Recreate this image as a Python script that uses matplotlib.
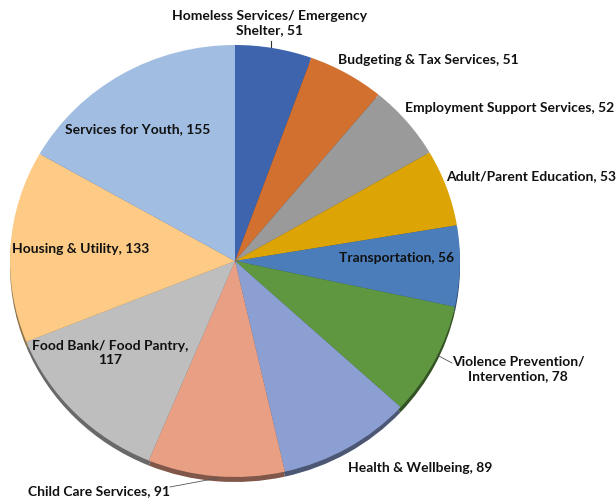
import matplotlib.pyplot as plt
import matplotlib.colors as mcolors

plt.rcParams['font.family'] = ['Lato', 'DejaVu Sans']

categories = ["Homeless Services/ Emergency\nShelter", "Budgeting & Tax Services",
              "Employment Support Services", "Adult/Parent Education", "Transportation",
              "Violence Prevention/\nIntervention", "Health & Wellbeing", "Child Care Services",
              "Food Bank/ Food Pantry,\n", "Housing & Utility", "Services for Youth"]
values = [51, 51, 52, 53, 56, 78, 89, 91, 117, 133, 155]
colors = ["#3F64AE", "#D2702F", "#9A9A9A", "#DCA404", "#4A7DBA", "#5F9741",
          "#8B9FD3", "#E89F84", "#BEBEBE", "#FDCB85", "#A1BDE2"]

# label placement in pixel coords (x, y from top, ha)
label_pos = [(270, 23, 'center'), (338, 60, 'left'), (405, 108, 'left'),
             (446, 176, 'left'), (397, 258, 'center'), (518, 369, 'center'),
             (348, 468, 'left'), (28, 491, 'left'), (110, 353, 'center'),
             (12, 249, 'left'), (138, 129, 'center')]

W, H = 616, 504
fig = plt.figure(figsize=(W / 100, H / 100), dpi=100)

# pie axes: unit radius = 225 px wide, 216 px tall (slight tilt)
cx, cy = 235, 261
rx, ry = 225, 216
ax = fig.add_axes([0, 0, 1, 1])

dark = [tuple(c * 0.55 for c in mcolors.to_rgb(col)) for col in colors]
ax.pie(values, colors=dark, startangle=90, counterclock=False,
       center=(0, -5 / ry), radius=1, wedgeprops=dict(linewidth=0))
ax.pie(values, colors=colors, startangle=90, counterclock=False,
       center=(0, 0), radius=1, wedgeprops=dict(linewidth=0))
ax.set_xlim(-cx / rx, (W - cx) / rx)
ax.set_ylim(-(H - cy) / ry, cy / ry)
ax.set_aspect('auto')
ax.axis('off')

# overlay in pixel coordinates for labels
tx = fig.add_axes([0, 0, 1, 1])
tx.set_xlim(0, W)
tx.set_ylim(H, 0)
tx.axis('off')

for name, v, (x, y, ha) in zip(categories, values, label_pos):
    if name.endswith("\n"):
        txt = name + str(v)
    else:
        txt = f"{name}, {v}"
    tx.text(x, y, txt, ha=ha, va='center', fontsize=10, fontweight='bold',
            color='#111111', linespacing=1.3, multialignment='center')

# leader lines
tx.plot([271, 271], [41, 47], color='#333333', lw=0.8)
tx.plot([437, 452], [355, 363], color='#555555', lw=0.6)
tx.plot([170, 218], [487, 478], color='#555555', lw=0.6)

fig.savefig("out.png", dpi=100)
